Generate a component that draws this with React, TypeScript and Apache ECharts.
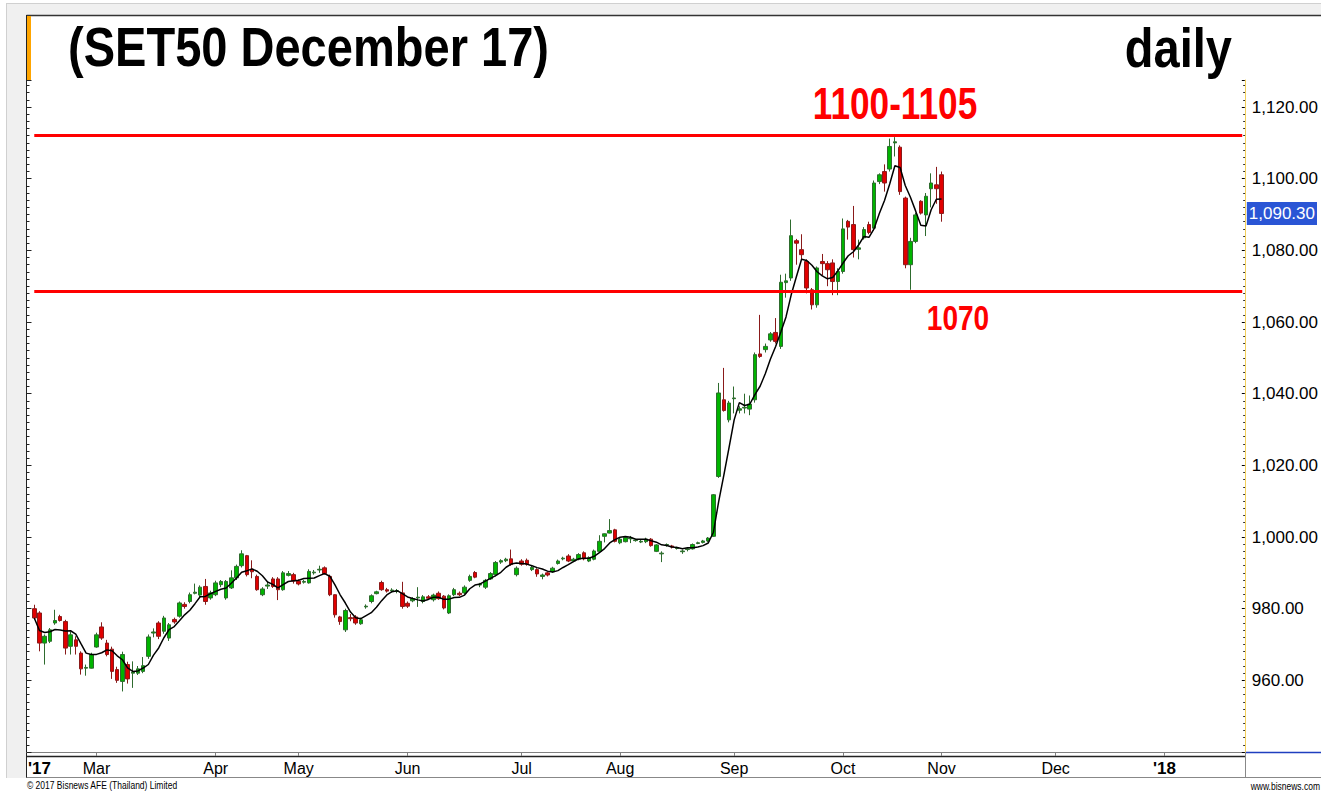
import React, { useEffect, useRef } from 'react';
import * as echarts from 'echarts';

const FONT = '"Liberation Sans", Arial, sans-serif';

// SET holidays (trading days skipped) up to the last bar
const holidays2017 = [
  '2017-02-13', '2017-04-06', '2017-04-13', '2017-04-14', '2017-04-17',
  '2017-05-01', '2017-05-10', '2017-07-10', '2017-07-28', '2017-08-14',
  '2017-10-13', '2017-10-23', '2017-10-26',
];

function buildDays(): string[] {
  const out: string[] = [];
  const d = new Date(Date.UTC(2017, 1, 9));
  const end = new Date(Date.UTC(2018, 0, 22));
  while (d <= end) {
    const wd = d.getUTCDay();
    const s = d.toISOString().slice(0, 10);
    if (wd !== 0 && wd !== 6 && !holidays2017.includes(s)) out.push(s);
    d.setUTCDate(d.getUTCDate() + 1);
  }
  return out;
}
const days = buildDays();

// axis labels at month starts
const monthLabels: Record<string, string> = {
  '2017-02-14': "'17",
  '2017-03-01': 'Mar',
  '2017-04-03': 'Apr',
  '2017-05-02': 'May',
  '2017-06-01': 'Jun',
  '2017-07-03': 'Jul',
  '2017-08-01': 'Aug',
  '2017-09-01': 'Sep',
  '2017-10-02': 'Oct',
  '2017-11-01': 'Nov',
  '2017-12-01': 'Dec',
  '2018-01-01': "'18",
};

// [open, close, low, high]
const febData = [
  [980.0, 977.4, 976.9, 981.1], [978.8, 970.4, 968.1, 979.3], [970.4, 972.3, 964.4, 972.8],
  [970.9, 974.1, 970.4, 974.6], [976.0, 976.7, 975.5, 979.7], [977.8, 976.7, 976.4, 978.3],
  [976.4, 969.0, 967.2, 976.9], [969.5, 972.7, 967.2, 973.6], [971.3, 969.5, 967.2, 972.3],
  [967.6, 963.2, 961.6, 968.1], [963.4, 963.6, 961.3, 964.4], [963.4, 967.2, 963.3, 967.7],
];
const marData = [
  [969.3, 972.7, 969.1, 973.3], [974.9, 971.8, 971.3, 976.2], [970.4, 967.2, 966.7, 971.3],
  [968.7, 962.5, 960.4, 969.4], [963.0, 960.0, 959.3, 963.8], [959.7, 967.2, 956.9, 968.0],
  [964.4, 960.4, 959.1, 965.2], [962.0, 962.3, 957.9, 965.3], [962.0, 963.2, 961.5, 964.0],
  [962.5, 964.1, 962.0, 966.5], [966.7, 972.1, 966.0, 972.8], [973.2, 973.5, 972.0, 974.5],
  [976.0, 972.3, 971.5, 976.5], [973.7, 977.4, 973.0, 978.0], [971.8, 975.5, 971.0, 976.0],
  [977.0, 976.3, 975.8, 977.5], [977.9, 981.6, 977.5, 982.0], [981.2, 980.6, 980.0, 981.8],
  [982.0, 983.9, 981.5, 984.5], [984.3, 984.6, 984.0, 987.0], [983.8, 986.0, 983.0, 986.5],
  [986.2, 982.0, 981.1, 988.3], [983.0, 984.4, 982.5, 985.0],
];
const aprData = [
  [983.9, 987.2, 983.5, 987.8], [986.7, 987.6, 986.0, 988.0], [983.0, 987.6, 982.5, 988.0],
  [985.8, 988.6, 985.5, 990.7], [988.6, 991.8, 988.0, 992.3], [992.0, 995.3, 991.5, 996.3],
  [994.8, 989.5, 989.0, 995.0], [991.0, 990.3, 988.5, 993.5], [989.0, 985.3, 985.0, 989.5],
  [983.9, 985.5, 983.5, 986.0], [986.3, 986.6, 985.5, 987.5], [988.3, 986.2, 985.8, 988.8],
  [988.3, 985.3, 982.4, 988.8], [985.3, 990.0, 985.0, 990.5], [989.3, 989.8, 989.0, 990.5],
  [989.5, 987.7, 987.0, 990.0],
];
const mayData = [
  [987.7, 986.9, 986.5, 988.2], [987.4, 987.6, 987.0, 988.0], [987.2, 990.4, 987.0, 991.0],
  [990.0, 990.2, 989.5, 990.8], [990.8, 991.0, 990.0, 992.0], [991.4, 989.8, 989.5, 991.8],
  [989.0, 983.9, 983.5, 989.5], [983.9, 978.3, 977.5, 984.0], [977.7, 976.4, 975.5, 978.0],
  [974.1, 979.5, 973.5, 980.0], [977.5, 977.2, 976.5, 978.5], [977.7, 976.0, 975.5, 978.2],
  [975.8, 976.9, 975.5, 977.5], [980.5, 980.7, 980.0, 981.2], [982.0, 983.6, 981.5, 984.0],
  [984.2, 984.7, 984.0, 985.0], [987.3, 985.3, 985.0, 987.8], [985.3, 984.9, 984.5, 985.8],
  [985.0, 985.2, 984.5, 985.7], [984.8, 985.0, 984.3, 985.5], [984.4, 980.6, 980.0, 987.5],
];
const junData = [
  [981.5, 980.7, 980.2, 982.0], [982.2, 982.8, 981.8, 983.2], [983.0, 983.2, 980.5, 986.0],
  [982.0, 983.3, 981.5, 983.8], [983.3, 982.9, 982.5, 983.8], [982.5, 983.8, 982.0, 984.2],
  [984.3, 982.8, 982.5, 984.8], [983.5, 980.2, 979.8, 983.8], [978.8, 983.6, 978.5, 984.0],
  [983.9, 985.3, 983.5, 985.8], [984.3, 983.9, 983.5, 984.8], [984.4, 986.0, 984.0, 986.5],
  [987.9, 989.0, 987.5, 989.5], [990.1, 988.8, 988.5, 990.5], [986.6, 986.8, 986.0, 987.2],
  [986.0, 987.9, 985.5, 988.3], [988.3, 989.8, 988.0, 990.2], [989.5, 992.9, 989.0, 993.3],
  [993.0, 993.4, 992.5, 993.8], [993.4, 993.8, 993.0, 994.2], [993.9, 992.3, 992.0, 996.5],
  [989.5, 991.3, 989.0, 991.8],
];
const julData = [
  [993.3, 992.4, 992.0, 993.8], [993.5, 992.4, 992.0, 994.0], [990.9, 991.5, 990.5, 992.0],
  [990.9, 989.7, 988.9, 991.3], [989.0, 989.4, 988.2, 989.8], [990.0, 989.4, 989.0, 990.4],
  [990.3, 991.3, 990.0, 991.7], [992.6, 993.3, 992.3, 993.7], [993.9, 994.1, 993.5, 994.5],
  [994.7, 993.3, 993.0, 995.2], [993.3, 993.8, 993.0, 994.2], [993.8, 995.1, 993.5, 995.5],
  [995.6, 993.9, 993.5, 996.0], [993.3, 994.2, 993.0, 994.6], [993.8, 996.1, 993.5, 996.5],
  [996.0, 998.8, 995.8, 1000.5], [1000.2, 1000.9, 998.5, 1001.0], [1001.1, 1001.8, 1001.0, 1005.0],
  [1002.0, 998.8, 998.5, 1002.3],
];
const augData = [
  [998.4, 999.4, 998.0, 999.8], [998.7, 999.9, 998.5, 1000.2], [999.5, 999.7, 998.3, 1000.3],
  [999.0, 999.2, 998.7, 999.5], [998.6, 998.8, 998.3, 999.2], [998.7, 999.4, 998.3, 999.8],
  [999.4, 997.6, 997.3, 999.7], [996.0, 997.8, 995.8, 998.0], [995.3, 995.5, 993.0, 996.0],
  [997.8, 997.9, 997.3, 998.2], [997.5, 997.2, 996.8, 997.8], [996.8, 997.0, 996.5, 997.3],
  [995.9, 996.1, 995.3, 996.5], [996.5, 996.7, 996.0, 997.0], [996.7, 997.9, 996.5, 998.2],
  [998.2, 998.4, 998.0, 998.7], [998.5, 998.9, 998.2, 999.2], [998.9, 999.7, 998.6, 1000.0],
  [1000.2, 1011.8, 1000.0, 1012.0], [1016.9, 1040.2, 1016.5, 1043.0], [1038.3, 1035.3, 1035.0, 1047.2],
  [1032.7, 1037.4, 1032.0, 1038.0],
];
const sepData = [
  [1038.6, 1038.8, 1034.5, 1042.0], [1035.4, 1035.8, 1034.5, 1036.5], [1036.0, 1036.2, 1034.5, 1040.0],
  [1035.7, 1037.1, 1034.0, 1039.5], [1038.3, 1050.9, 1037.5, 1051.5], [1051.1, 1050.4, 1050.0, 1062.0],
  [1052.3, 1053.2, 1051.5, 1054.0], [1055.0, 1056.7, 1054.5, 1057.2], [1057.1, 1054.6, 1054.0, 1061.1],
  [1053.2, 1071.1, 1052.5, 1073.2], [1071.0, 1071.5, 1066.8, 1073.5], [1072.3, 1084.1, 1071.5, 1088.6],
  [1082.7, 1082.0, 1076.0, 1083.2], [1080.2, 1078.8, 1077.5, 1084.5], [1076.9, 1069.5, 1068.0, 1077.5],
  [1069.0, 1064.8, 1063.5, 1069.5], [1064.8, 1075.1, 1064.0, 1075.5], [1076.9, 1076.3, 1073.0, 1079.0],
  [1076.3, 1074.6, 1070.0, 1077.0], [1076.5, 1071.3, 1067.5, 1077.5], [1071.3, 1074.1, 1067.5, 1075.0],
];
const octData = [
  [1074.1, 1086.0, 1073.5, 1088.9], [1088.1, 1086.5, 1083.0, 1088.5], [1087.2, 1080.2, 1078.0, 1092.4],
  [1080.3, 1080.7, 1077.5, 1083.0], [1083.5, 1085.8, 1083.0, 1086.5], [1087.2, 1085.0, 1084.5, 1088.0],
  [1086.2, 1098.8, 1085.5, 1099.5], [1099.2, 1101.1, 1098.5, 1101.5], [1102.0, 1098.8, 1096.4, 1104.0],
  [1102.7, 1109.0, 1102.0, 1111.2], [1110.0, 1110.3, 1106.2, 1111.6], [1108.8, 1096.4, 1095.5, 1109.3],
  [1094.6, 1076.0, 1075.0, 1095.0], [1076.0, 1082.5, 1069.0, 1083.5], [1082.5, 1089.9, 1082.0, 1090.5],
  [1093.7, 1090.4, 1090.0, 1094.0], [1089.9, 1095.1, 1084.0, 1096.0], [1097.2, 1098.8, 1092.0, 1101.5],
  [1098.3, 1097.2, 1093.0, 1103.3],
];
const novData = [[1101.1, 1090.3, 1088.0, 1102.0]];

const resistanceLevel = 1112.1;
const supportLevel = 1068.5;
const lastClose = 1090.3;
const maPeriod = 5;

const yMin = 940;
const yMax = 1127.55;
const yStep = 20;

export default function App() {
  const ref = useRef<HTMLDivElement>(null);

  useEffect(() => {
    if (!ref.current) return;
    const chart = echarts.init(ref.current, undefined, { renderer: 'svg' });

    const ohlc = [
      ...febData, ...marData, ...aprData, ...mayData, ...junData,
      ...julData, ...augData, ...sepData, ...octData, ...novData,
    ];
    const firstIdx = 1; // first bar: 2017-02-10
    const rows: (string | number)[][] = ohlc.map((b, i) => {
      const from = Math.max(0, i - maPeriod + 1);
      let s = 0;
      for (let k = from; k <= i; k++) s += ohlc[k][1];
      const ma = s / (i - from + 1);
      return [days[firstIdx + i], b[0], b[1], b[2], b[3], ma];
    });

    const fmtNum = (v: number) =>
      v.toLocaleString('en-US', { minimumFractionDigits: 2, maximumFractionDigits: 2 });

    const option: any = {
      animation: false,
      backgroundColor: '#ffffff',
      textStyle: { fontFamily: FONT },
      dataset: { source: rows, dimensions: ['date', 'open', 'close', 'low', 'high', 'ma'] },
      grid: { left: 26.5, right: 76, top: 80, bottom: 39 },
      xAxis: {
        type: 'category',
        data: days,
        boundaryGap: true,
        axisLine: { show: true, lineStyle: { color: '#808080', width: 1 } },
        axisTick: {
          show: true,
          alignWithLabel: true,
          interval: (_i: number, v: string) => !!monthLabels[v] && v !== '2017-02-14',
          length: 4,
          lineStyle: { color: '#808080' },
        },
        axisLabel: {
          interval: (_i: number, v: string) => !!monthLabels[v],
          formatter: (v: string) => {
            const t = monthLabels[v] || '';
            return t.startsWith("'") ? `{b|${t}}` : t;
          },
          color: '#000',
          fontFamily: FONT,
          fontSize: 16,
          margin: 8,
          rich: { b: { fontWeight: 'bold', fontSize: 17, fontFamily: FONT, color: '#000' } },
        },
        splitLine: { show: false },
      },
      yAxis: [
        {
          type: 'value',
          position: 'right',
          min: yMin,
          max: yMax,
          interval: yStep,
          axisLine: { show: true, lineStyle: { color: '#f2cf5b', width: 1 } },
          axisTick: { show: true, inside: true, length: 3, lineStyle: { color: '#000' } },
          minorTick: { show: true, splitNumber: 10, length: 1.5, lineStyle: { color: '#000' } },
          axisLabel: {
            formatter: (v: number) => (v % yStep === 0 && v > yMin ? fmtNum(v) : ''),
            fontSize: 17,
            fontFamily: FONT,
            color: '#000',
            margin: 7,
            showMaxLabel: false,
            showMinLabel: false,
          },
          splitLine: { show: false },
        },
        {
          type: 'value',
          position: 'left',
          min: yMin,
          max: yMax,
          interval: yStep,
          axisLine: { show: true, lineStyle: { color: '#222', width: 1 } },
          axisTick: { show: true, inside: true, length: 5, lineStyle: { color: '#222' } },
          minorTick: { show: true, splitNumber: 10, length: 3, lineStyle: { color: '#222' } },
          axisLabel: { show: false },
          splitLine: { show: false },
        },
      ],
      series: [
        {
          type: 'candlestick',
          name: 'SET50',
          yAxisIndex: 0,
          encode: { x: 'date', y: ['open', 'close', 'low', 'high'] },
          barWidth: 4,
          itemStyle: {
            color: '#00b400',
            color0: '#e00000',
            borderColor: '#2e6b2e',
            borderColor0: '#8a1a1a',
            borderWidth: 1,
          },
          z: 2,
          markLine: {
            silent: true,
            symbol: ['none', 'none'],
            data: [
              {
                yAxis: lastClose,
                lineStyle: { color: 'rgba(0,0,0,0)', width: 0 },
                label: {
                  show: true,
                  position: 'end',
                  distance: 2,
                  formatter: fmtNum(lastClose),
                  backgroundColor: '#2a55d5',
                  color: '#ffffff',
                  fontSize: 17,
                  fontFamily: FONT,
                  padding: [3, 2, 3, 2],
                },
              },
            ],
          },
        },
        {
          type: 'line',
          name: 'MA',
          yAxisIndex: 0,
          encode: { x: 'date', y: 'ma' },
          symbol: 'none',
          lineStyle: { color: '#000', width: 1.5 },
          z: 3,
          markLine: {
            silent: true,
            symbol: ['none', 'none'],
            data: [
              [
                { coord: [days[1], resistanceLevel] },
                { coord: [days[234], resistanceLevel] },
              ],
              [
                { coord: [days[1], supportLevel] },
                { coord: [days[234], supportLevel] },
              ],
            ],
            lineStyle: { color: '#ff0000', width: 3, type: 'solid' },
            label: { show: false },
          },
        },
      ],
      graphic: [
        { type: 'rect', silent: true, z: -10, shape: { x: 6, y: 3, width: 1315, height: 12 }, style: { fill: '#f0f0f0' } },
        { type: 'rect', silent: true, z: -10, shape: { x: 6, y: 3, width: 21, height: 775 }, style: { fill: '#f0f0f0' } },
        { type: 'line', silent: true, shape: { x1: 6.5, y1: 3, x2: 6.5, y2: 778 }, style: { stroke: '#d0d0d0', lineWidth: 1 } },
        { type: 'line', silent: true, shape: { x1: 6, y1: 3.5, x2: 1321, y2: 3.5 }, style: { stroke: '#d0d0d0', lineWidth: 1 } },
        { type: 'line', silent: true, shape: { x1: 26.5, y1: 15.5, x2: 1321, y2: 15.5 }, style: { stroke: '#333', lineWidth: 1.5 } },
        { type: 'line', silent: true, shape: { x1: 26.5, y1: 15, x2: 26.5, y2: 80 }, style: { stroke: '#222', lineWidth: 1 } },
        { type: 'line', silent: true, shape: { x1: 26.5, y1: 752, x2: 26.5, y2: 778 }, style: { stroke: '#222', lineWidth: 1 } },
        { type: 'rect', silent: true, shape: { x: 27, y: 16, width: 4, height: 64 }, style: { fill: '#ffa500' } },
        { type: 'line', silent: true, shape: { x1: 26.5, y1: 756.5, x2: 1245, y2: 756.5 }, style: { stroke: '#222', lineWidth: 1.5 } },
        { type: 'line', silent: true, shape: { x1: 26.5, y1: 777.5, x2: 1321, y2: 777.5 }, style: { stroke: '#888', lineWidth: 1 } },
        { type: 'line', silent: true, shape: { x1: 1245.5, y1: 752, x2: 1245.5, y2: 778 }, style: { stroke: '#888', lineWidth: 1 } },
        { type: 'line', silent: true, shape: { x1: 1246, y1: 752.5, x2: 1321, y2: 752.5 }, style: { stroke: '#1f3fbf', lineWidth: 1.5 } },
        {
          type: 'text', silent: true, x: 68, y: 47, scaleX: 0.84,
          style: { text: '(SET50 December 17)', fontSize: 56, fontWeight: 'bold', fontFamily: FONT, fill: '#000', align: 'left', verticalAlign: 'middle' },
        },
        {
          type: 'text', silent: true, x: 1232, y: 48, scaleX: 0.84,
          style: { text: 'daily', fontSize: 56, fontWeight: 'bold', fontFamily: FONT, fill: '#000', align: 'right', verticalAlign: 'middle' },
        },
        {
          type: 'text', silent: true, x: 895, y: 104, scaleX: 0.8,
          style: { text: '1100-1105', fontSize: 44, fontWeight: 'bold', fontFamily: FONT, fill: '#ff0000', align: 'center', verticalAlign: 'middle' },
        },
        {
          type: 'text', silent: true, x: 958, y: 318, scaleX: 0.78,
          style: { text: '1070', fontSize: 36, fontWeight: 'bold', fontFamily: FONT, fill: '#ff0000', align: 'center', verticalAlign: 'middle' },
        },
        {
          type: 'text', silent: true, x: 27, y: 786, scaleX: 0.85,
          style: { text: '\u00A9 2017 Bisnews AFE (Thailand) Limited', fontSize: 10, fontFamily: FONT, fill: '#000', align: 'left', verticalAlign: 'middle' },
        },
        {
          type: 'text', silent: true, x: 1320, y: 787, scaleX: 0.85,
          style: { text: 'www.bisnews.com', fontSize: 10, fontFamily: FONT, fill: '#000', align: 'right', verticalAlign: 'middle' },
        },
      ],
    };

    chart.setOption(option);
    return () => chart.dispose();
  }, []);

  return (
    <div
      ref={ref}
      style={{ position: 'absolute', left: 0, top: 0, width: 1321, height: 791, background: '#fff' }}
    />
  );
}
